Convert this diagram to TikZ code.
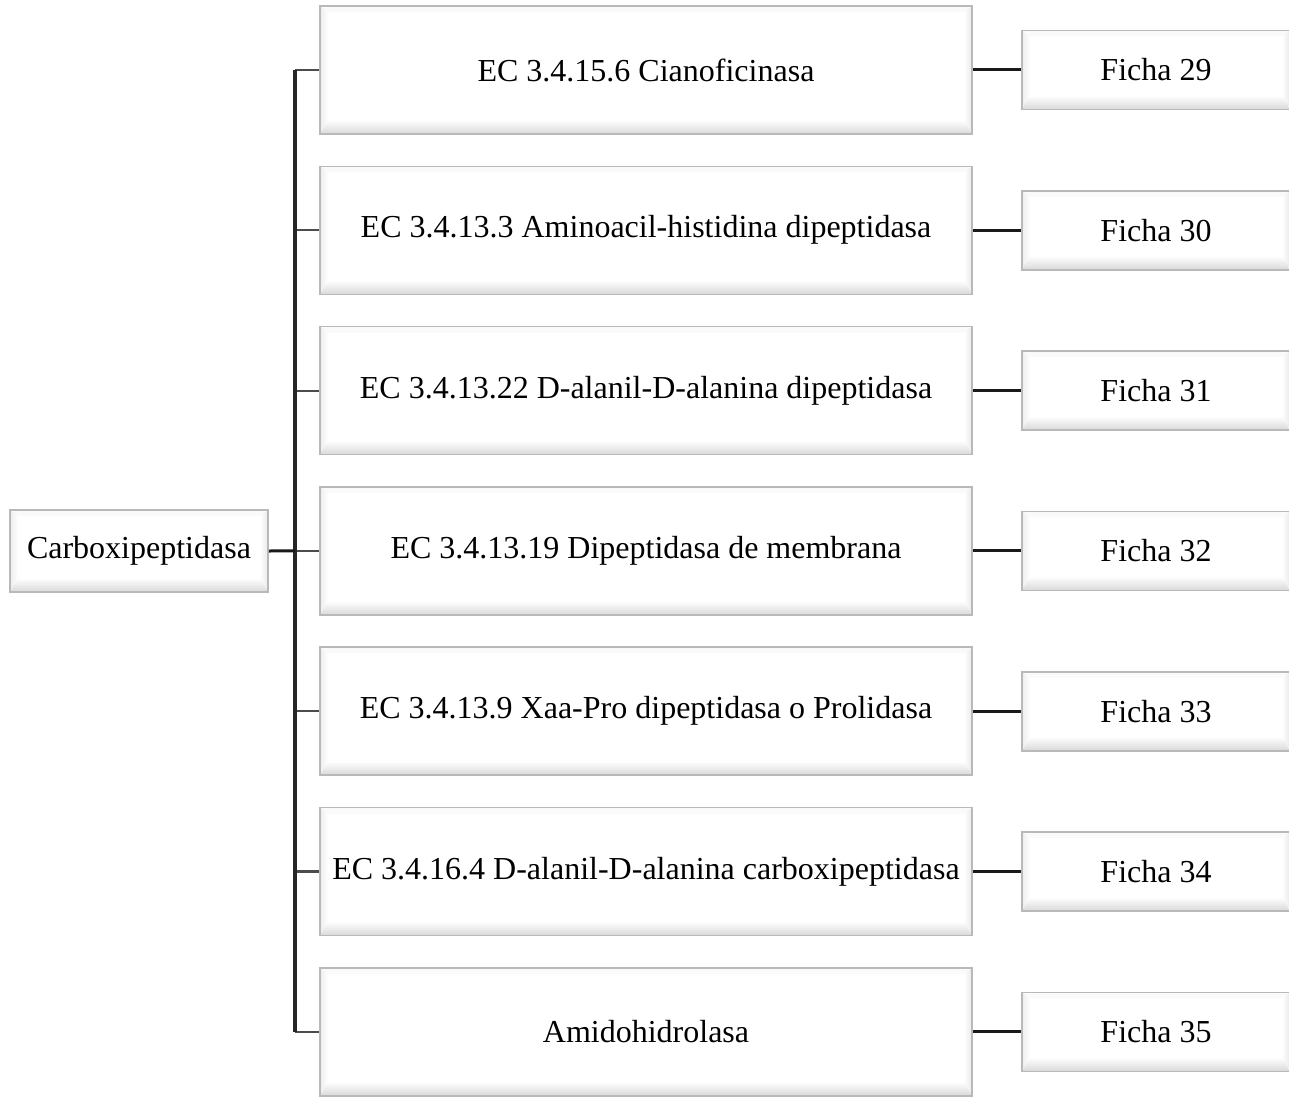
\documentclass[tikz,border=0pt]{standalone}
\usepackage{fontspec}
\setmainfont{Liberation Serif}

\tikzset{
  bevel/.style={draw=gray!55, line width=0.8pt, fill=white, inner sep=0pt,
    path picture={
      \coordinate (nw) at (path picture bounding box.north west);
      \coordinate (ne) at (path picture bounding box.north east);
      \coordinate (sw) at (path picture bounding box.south west);
      \coordinate (se) at (path picture bounding box.south east);
      % bevel faces
      \fill[gray!4] (nw) -- (ne) -- ([shift={(-4pt,-3pt)}]ne) -- ([shift={(4pt,-3pt)}]nw) -- cycle;
      \shade[left color=gray!14, right color=white] (nw) -- (sw) -- ([shift={(4pt,7pt)}]sw) -- ([shift={(4pt,-3pt)}]nw) -- cycle;
      \shade[left color=white, right color=gray!18] (ne) -- (se) -- ([shift={(-4pt,7pt)}]se) -- ([shift={(-4pt,-3pt)}]ne) -- cycle;
      \shade[top color=white, bottom color=gray!30] (sw) -- (se) -- ([shift={(-4pt,7pt)}]se) -- ([shift={(4pt,7pt)}]sw) -- cycle;
    }},
  trunk/.style={draw=black!85, line width=1.6pt},
  branch/.style={draw=black!70, line width=1.1pt},
  link/.style={draw=black!90, line width=1.5pt}
}

\begin{document}
\begin{tikzpicture}[x=0.5pt,y=-0.5pt,font=\fontsize{16}{19}\selectfont]
    \clip (0,0) rectangle (1289,1097);
    \node[bevel,minimum width=129pt,minimum height=41pt] at (139,551) (carb) {Carboxipeptidasa};
    \foreach \i/\t in {1/{EC 3.4.15.6 Cianoficinasa},
                       2/{EC 3.4.13.3 Aminoacil-histidina dipeptidasa},
                       3/{EC 3.4.13.22 D-alanil-D-alanina dipeptidasa},
                       4/{EC 3.4.13.19 Dipeptidasa de membrana},
                       5/{EC 3.4.13.9 Xaa-Pro dipeptidasa o Prolidasa},
                       6/{EC 3.4.16.4 D-alanil-D-alanina carboxipeptidasa},
                       7/{Amidohidrolasa}} {%
      \pgfmathtruncatemacro\n{28+\i}%
      \node[bevel,minimum width=326pt,minimum height=64pt] at (646,{70+160.3*(\i-1)}) (ec\i) {\t};%
      \node[bevel,minimum width=134pt,minimum height=39.5pt] at (1156,{70+160.3*(\i-1)}) (f\i) {Ficha \n};%
      \coordinate (t\i) at (295,{70+160.3*(\i-1)});%
      \draw[branch] (t\i) -- (ec\i.west);%
      \draw[link] (ec\i.east) -- (f\i.west);%
    };%
    \draw[trunk] (t1) -- (t7);%
    \draw[link] (carb.east) -- (t4);%
  \end{tikzpicture}
\end{document}
